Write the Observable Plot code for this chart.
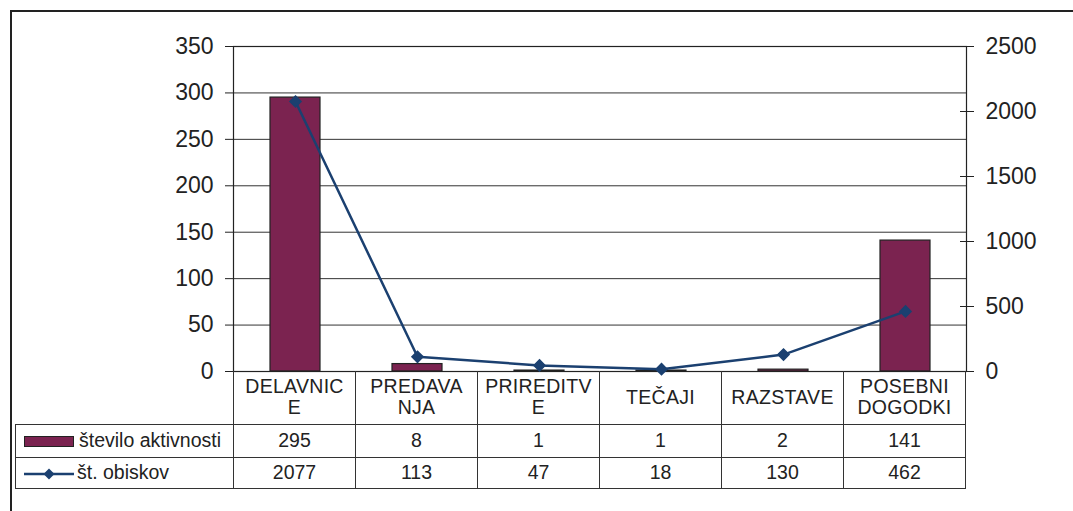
<!DOCTYPE html>
<html>
<head>
<meta charset="utf-8">
<script src="https://cdn.jsdelivr.net/npm/d3@7"></script>
<script src="https://cdn.jsdelivr.net/npm/@observablehq/plot@0.6"></script>
<style>
  html, body { margin: 0; padding: 0; background: #fff; }
  body { width: 1073px; height: 511px; position: relative; overflow: hidden; font-family: "Liberation Sans", Arial, sans-serif; }
  #frame { position: absolute; left: 10px; top: 10px; width: 1200px; height: 700px; border-left: 2px solid #222; border-top: 2px solid #222; }
  #chart { position: absolute; left: 0; top: 0; }
  #table { position: absolute; top: 371px; border-collapse: collapse; table-layout: fixed; font-size: 19.5px; color: #222; }
  #table td { padding: 0; text-align: center; vertical-align: middle; border: 1px solid #333; box-sizing: border-box; white-space: pre-line; }
  #table tr.cat td { border-top: none; line-height: 21px; height: 53px; letter-spacing: 0.3px; }
  #table tr.cat td.blank { border: none; }
  #table tr.r1 td { height: 33px; }
  #table tr.r2 td { height: 31px; }
  #table td.leg { text-align: left; white-space: nowrap; }
  .sw { display: inline-block; vertical-align: middle; margin: 0 5px 0 8px; }
</style>
</head>
<body>
<div id="frame"></div>
<div id="chart"></div>
<table id="table"></table>
<script>
const categories = ["DELAVNICE", "PREDAVANJA", "PRIREDITVE", "TEČAJI", "RAZSTAVE", "POSEBNI DOGODKI"];
const categoryLabels = ["DELAVNIC\nE", "PREDAVA\nNJA", "PRIREDITV\nE", "TEČAJI", "RAZSTAVE", "POSEBNI\nDOGODKI"];
const activities = [295, 8, 1, 1, 2, 141];
const visits = [2077, 113, 47, 18, 130, 462];
const seriesNames = ["število aktivnosti", "št. obiskov"];
const leftTicks = [0, 50, 100, 150, 200, 250, 300, 350];
const rightTicks = [0, 500, 1000, 1500, 2000, 2500];

const barColor = "#7b2350";
const lineColor = "#1b4070";
const leftMax = 350, rightMax = 2500;
const ratio = leftMax / rightMax;

const data = categories.map((c, i) => ({category: c, activities: activities[i], visits: visits[i]}));

const plot = Plot.plot({
  width: 1073,
  height: 400,
  marginLeft: 233,
  marginRight: 107,
  marginTop: 46,
  marginBottom: 29,
  style: {fontFamily: "'Liberation Sans', Arial, sans-serif", color: "#222", background: "transparent"},
  x: {type: "band", domain: categories, padding: 0, axis: null},
  y: {domain: [0, leftMax], axis: null},
  marks: [
    Plot.gridY(leftTicks, {stroke: "#333", strokeOpacity: 1, strokeWidth: 1}),
    Plot.barY(data, {x: "category", y: "activities", fill: barColor, stroke: "#222", strokeWidth: 1.2, insetLeft: 36, insetRight: 36}),
    Plot.frame({stroke: "#222", strokeWidth: 1.2}),
    Plot.axisY(leftTicks, {anchor: "left", label: null, tickSize: 8, tickPadding: 12, fontSize: 23, stroke: "#222"}),
    Plot.axisY(rightTicks.map(v => v * ratio), {anchor: "right", label: null, tickSize: 7, tickPadding: 12, fontSize: 23, stroke: "#222",
      tickFormat: v => String(Math.round(v / ratio))}),
    Plot.axisY(rightTicks.map(v => v * ratio), {anchor: "right", label: null, tickSize: -7, tickFormat: () => "", stroke: "#222"}),
    Plot.line(data, {x: "category", y: d => d.visits * ratio, stroke: lineColor, strokeWidth: 2.5}),
    Plot.dot(data, {x: "category", y: d => d.visits * ratio, symbol: "diamond2", fill: lineColor, stroke: lineColor, r: 5})
  ]
});
document.getElementById("chart").appendChild(plot);

// Data table aligned with the x band scale
const xs = plot.scale("x");
const step = xs.step;
const left0 = 15;
const firstW = xs.range[0] - left0;
const table = document.getElementById("table");
table.style.left = left0 + "px";
table.style.width = (firstW + step * categories.length) + "px";

let html = `<colgroup><col style="width:${firstW}px">` + categories.map(() => `<col style="width:${step}px">`).join("") + `</colgroup>`;
html += `<tr class="cat"><td class="blank"></td>` + categoryLabels.map(l => `<td>${l}</td>`).join("") + `</tr>`;
html += `<tr class="r1"><td class="leg"><span class="sw" style="width:48px;height:9px;background:${barColor};border:1px solid #222"></span>${seriesNames[0]}</td>` +
  activities.map(v => `<td>${v}</td>`).join("") + `</tr>`;
html += `<tr class="r2"><td class="leg"><svg class="sw" width="50" height="12" style="margin-right:3px"><line x1="0" y1="6" x2="50" y2="6" stroke="${lineColor}" stroke-width="2.5"/><path d="M25,0.5L30.5,6L25,11.5L19.5,6Z" fill="${lineColor}"/></svg>${seriesNames[1]}</td>` +
  visits.map(v => `<td>${v}</td>`).join("") + `</tr>`;
table.innerHTML = html;
</script>
</body>
</html>
